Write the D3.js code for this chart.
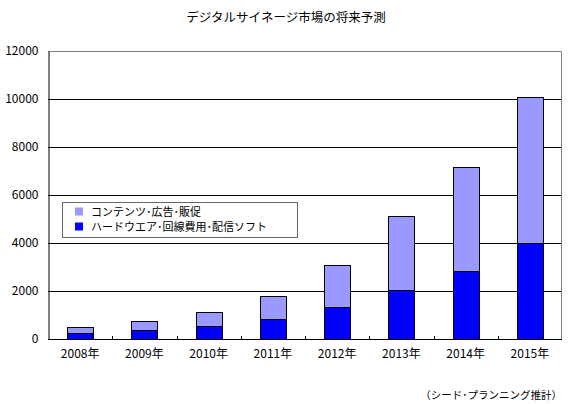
<!DOCTYPE html>
<html><head><meta charset="utf-8">
<script src="https://cdn.jsdelivr.net/npm/d3@7"></script>
<style>
html,body{margin:0;padding:0;background:#fff;}
svg{display:block;}
text{font-family:"Noto Sans CJK JP","Noto Sans",sans-serif;fill:#000;}
</style></head>
<body>
<svg id="chart" width="576" height="404"></svg>
<script>
const categories = ["2008年","2009年","2010年","2011年","2012年","2013年","2014年","2015年"];
const hardware = [270, 360, 530, 820, 1320, 2030, 2820, 4000];
const contents = [250, 380, 580, 960, 1750, 3080, 4330, 6070];
const seriesNames = ["コンテンツ･広告･販促", "ハードウエア･回線費用･配信ソフト"];
const yTicks = [0, 2000, 4000, 6000, 8000, 10000, 12000];
const title = "デジタルサイネージ市場の将来予測";
const note = "（シード･プランニング推計）";

const svg = d3.select("#chart");
const pL = 48, pR = 562, pT = 51, pB = 339;

const x = d3.scaleBand().domain(categories).range([pL, pR]).paddingInner(0).paddingOuter(0);
const y = d3.scaleLinear().domain([0, 12000]).range([pB, pT]);

// title
svg.append("text").attr("x", 286).attr("y", 22).attr("text-anchor", "middle")
  .style("font-size", "12.5px").text(title);

// plot frame (gray top/right)
svg.append("path").attr("d", `M${pL},${pT+0.5}H${pR-0.5}V${pB}`)
  .attr("fill", "none").attr("stroke", "#808080").attr("stroke-width", 1);

// gridlines
svg.append("g").selectAll("line").data(yTicks.filter(d => d > 0 && d < 12000)).join("line")
  .attr("x1", pL).attr("x2", pR - 1)
  .attr("y1", d => Math.round(y(d)) + 0.5).attr("y2", d => Math.round(y(d)) + 0.5)
  .attr("stroke", "#000").attr("stroke-width", 1);

// bars
const bw = 26;
const stackData = categories.map((c, i) => ({cat: c, hw: hardware[i], ct: contents[i]}));
const stack = d3.stack().keys(["hw", "ct"])(stackData);
const colors = {hw: "#0000FF", ct: "#9999FF"};
svg.append("g").selectAll("g").data(stack).join("g")
  .attr("fill", d => colors[d.key])
  .selectAll("rect").data(d => d).join("rect")
  .attr("x", d => Math.round(x(d.data.cat) + x.bandwidth() / 2 - bw / 2) + 0.5)
  .attr("y", d => Math.round(y(d[1])) + 0.5)
  .attr("width", bw)
  .attr("height", d => Math.round(y(d[0])) - Math.round(y(d[1])))
  .attr("stroke", "#000").attr("stroke-width", 1);

// y axis
const yAxis = d3.axisLeft(y).tickValues(yTicks).tickSize(0).tickPadding(10).tickFormat(d3.format("d"));
const gy = svg.append("g").attr("transform", `translate(${pL + 0.5},0)`).call(yAxis);
gy.select(".domain").attr("stroke", "#000");
gy.selectAll("text").style("font-size", "12px").style("font-family", '"Noto Sans CJK JP",sans-serif');

// x axis with inside ticks at category boundaries
const gx = svg.append("g").attr("transform", `translate(0,${pB + 0.5})`)
  .call(d3.axisBottom(x).tickSize(0).tickPadding(10));
gx.select(".domain").attr("stroke", "#000").attr("d", `M${pL},0H${pR}`);
gx.selectAll("text").style("font-size", "12px").style("font-family", '"Noto Sans CJK JP",sans-serif');
svg.append("g").selectAll("line").data(categories.slice(1)).join("line")
  .attr("x1", d => Math.round(x(d)) + 0.5).attr("x2", d => Math.round(x(d)) + 0.5)
  .attr("y1", pB - 3).attr("y2", pB)
  .attr("stroke", "#000");

// legend
const lg = svg.append("g");
lg.append("rect").attr("x", 62.5).attr("y", 202.5).attr("width", 235).attr("height", 35)
  .attr("fill", "#fff").attr("stroke", "#666");
const legendItems = [{name: seriesNames[0], color: colors.ct}, {name: seriesNames[1], color: colors.hw}];
legendItems.forEach((it, i) => {
  const cy = 211.5 + i * 15;
  lg.append("rect").attr("x", 75).attr("y", cy - 4).attr("width", 8).attr("height", 8).attr("fill", it.color);
  lg.append("text").attr("x", 91).attr("y", cy + 4).style("font-size", "11px").text(it.name);
});

// note
svg.append("text").attr("x", 562).attr("y", 399).attr("text-anchor", "end")
  .style("font-size", "10.5px").text(note);
</script>
</body></html>
